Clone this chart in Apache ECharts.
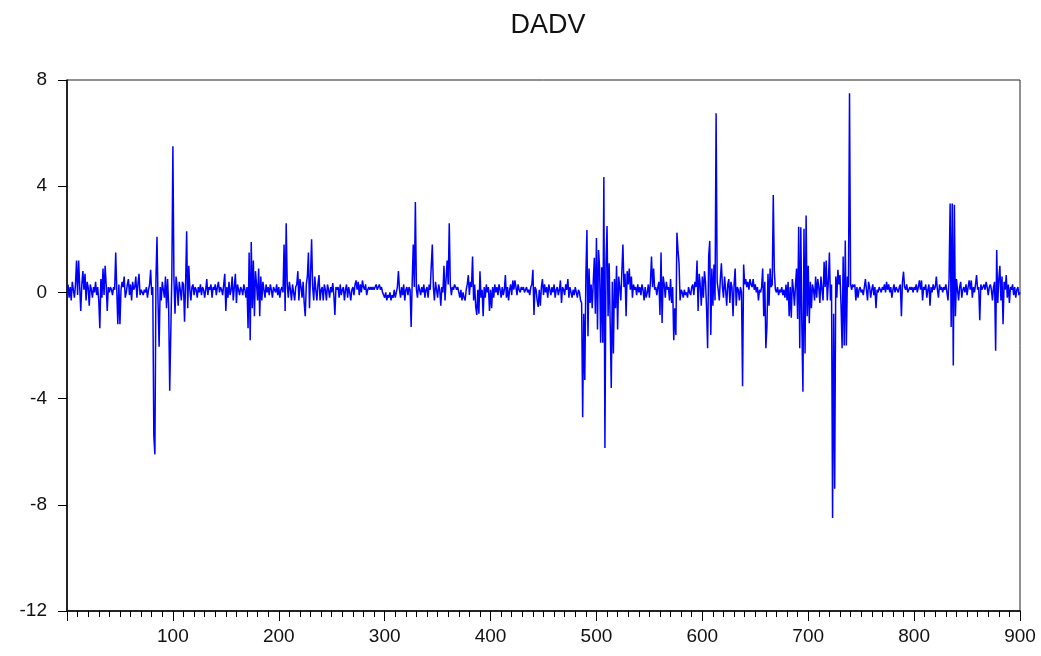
<!DOCTYPE html>
<html>
<head>
<meta charset="utf-8">
<script src="https://cdn.jsdelivr.net/npm/echarts@6/dist/echarts.min.js"></script>
<style>
html,body{margin:0;padding:0;background:#fff;}
#chart{width:1041px;height:656px;}
</style>
</head>
<body>
<div id="chart"></div>
<script>
const titleText = 'DADV';
const xMin = 0, xMax = 900, xStep = 100;
const yMin = -12, yMax = 8, yStep = 4;

// DADV observations 1..900
const dadv = [
 0.3,-0.2,0.2,-0.3,0.4,0.1,-0.2,0.3,1.2,-0.1,
 1.2,0.2,-0.7,0.3,0.8,0.1,0.7,-0.3,0.4,0.2,
 -0.5,0.3,0.1,-0.2,0.2,0.0,0.4,-0.1,0.2,-0.3,
 -1.35,0.5,-0.2,0.9,-0.1,1.0,0.3,-0.7,0.2,0.0,
 0.2,0.1,-0.1,0.2,0.1,1.5,0.1,-1.2,0.3,-1.2,
 0.1,0.4,0.2,0.6,-0.2,0.0,0.3,0.5,-0.1,0.3,
 -0.3,0.4,0.1,0.2,0.6,-0.2,0.3,0.7,-0.1,0.1,
 0.0,-0.1,0.1,0.0,0.2,-0.2,0.1,0.3,0.85,-0.1,
 0.2,-5.4,-6.1,0.5,2.1,-0.4,-2.05,0.2,-0.3,0.4,
 0.1,-0.2,0.6,-0.6,0.5,-0.5,-3.7,-3.7,0.6,5.5,
 0.5,-0.8,0.6,0.2,-0.5,0.4,0.1,-0.3,0.4,0.3,
 -1.1,0.3,2.3,-0.6,1.0,0.1,-0.3,0.2,0.3,-0.1,
 0.2,0.1,-0.2,0.2,0.0,0.3,-0.1,0.2,0.1,-0.2,
 0.1,0.5,-0.1,0.2,0.1,0.3,-0.2,0.2,0.1,0.3,
 -0.1,0.2,0.4,0.0,0.2,0.1,-0.1,0.3,0.7,-0.7,
 0.2,-0.2,0.4,-0.1,0.1,0.6,-0.3,0.2,0.7,-0.4,
 0.3,0.1,-0.1,0.2,0.1,-0.1,0.3,0.1,-0.2,0.2,
 -1.35,1.5,-1.8,1.9,-0.6,1.2,-0.9,0.8,0.3,-0.3,
 0.9,-0.9,0.6,-0.3,0.4,0.1,-0.2,0.3,0.0,0.2,
 -0.1,0.3,0.1,-0.2,0.2,0.1,0.0,0.3,-0.1,0.2,
 -0.2,0.1,0.2,0.0,1.8,-0.7,2.6,0.3,-0.2,0.4,
 0.1,-0.3,0.3,0.0,-0.3,0.2,0.3,0.8,-0.3,0.5,
 0.2,-0.2,0.4,-0.4,-0.9,0.3,0.6,1.5,-0.6,0.7,
 2.0,0.2,-0.3,0.6,0.1,-0.3,0.3,0.65,-0.3,0.1,
 0.2,-0.3,0.3,0.1,-0.3,0.3,0.1,-0.2,0.2,0.0,
 0.35,-0.1,-0.85,0.2,0.1,0.2,-0.2,0.3,-0.1,0.1,
 0.2,-0.3,0.1,0.3,-0.2,0.2,0.0,-0.3,0.1,0.2,
 -0.1,0.3,0.45,0.1,0.4,-0.1,0.3,0.0,0.45,0.2,
 0.1,0.3,-0.1,0.1,0.2,0.1,0.2,0.1,0.2,0.1,
 0.2,0.3,0.1,0.2,0.3,0.1,0.2,0.0,-0.1,-0.2,
 0.0,-0.3,-0.1,-0.2,0.0,-0.3,-0.1,-0.2,0.1,-0.2,
 0.0,0.2,0.8,0.1,-0.2,0.2,-0.1,0.3,-0.3,0.1,
 0.2,-0.1,0.2,0.1,-1.3,0.4,1.8,0.2,3.4,0.1,
 -0.2,0.3,0.1,-0.1,0.2,0.0,0.3,-0.2,0.1,0.2,
 -0.2,0.3,0.1,1.0,1.8,0.2,-0.3,0.4,0.1,-0.2,
 0.3,0.1,-0.5,0.2,0.0,1.0,-0.3,0.5,1.2,0.3,
 2.6,0.3,-0.1,0.2,0.1,0.3,0.2,0.1,0.2,0.0,
 -0.2,0.1,-0.3,0.0,-0.2,-0.3,0.1,0.3,0.65,-0.1,
 0.4,0.2,1.35,-0.3,0.3,-0.55,-0.85,0.1,-0.8,0.8,
 -0.2,0.1,-0.9,0.2,-0.2,0.3,0.0,0.2,-0.7,0.1,
 -0.6,0.2,-0.2,0.3,0.0,0.2,-0.1,0.3,0.1,-0.2,
 0.2,-0.1,0.1,0.65,-0.2,0.2,-0.3,0.1,0.3,-0.1,
 0.45,0.1,0.45,0.2,-0.1,0.3,0.1,0.0,0.2,0.1,
 0.2,0.0,0.1,0.2,0.0,0.1,-0.1,0.2,0.3,0.85,
 -0.85,0.2,0.1,-0.3,-0.55,0.1,-0.5,0.2,0.5,-0.1,
 0.3,0.0,0.2,-0.2,0.3,0.1,-0.1,0.2,0.0,0.3,
 -0.2,0.1,0.2,-0.1,0.1,0.45,-0.4,0.2,0.1,-0.1,
 0.3,0.1,0.5,-0.2,0.2,0.0,-0.2,0.1,-0.1,0.2,
 0.0,-0.2,0.1,0.0,-0.3,-0.4,-4.7,-0.8,-3.3,0.6,
 2.35,-1.65,0.9,-0.4,0.3,-0.6,0.4,1.3,-0.8,2.05,
 -1.4,1.6,0.9,-1.9,0.95,-1.9,4.35,-5.86,1.1,2.5,
 -0.9,1.1,-1.2,-3.6,0.4,-2.3,0.5,-0.6,1.0,-1.4,
 0.6,0.2,-0.3,0.8,1.8,0.2,0.7,-0.9,0.8,0.3,
 0.9,0.1,0.6,-0.2,0.3,0.1,0.2,-0.1,0.3,0.0,
 0.2,-0.1,0.3,0.1,-0.3,0.2,-0.2,0.0,0.3,-0.2,
 0.4,1.35,0.2,0.9,0.1,0.2,-0.1,0.2,0.4,-0.85,
 1.5,-1.15,0.6,0.3,-0.2,0.4,0.1,0.2,-0.3,0.5,
 -0.4,0.2,-1.8,-0.6,-1.6,2.25,1.6,1.1,-0.3,0.1,
 0.0,-0.2,0.1,-0.1,0.0,-0.2,0.2,0.0,-0.1,0.2,
 0.3,-0.1,0.4,0.2,1.2,-0.7,0.7,0.3,-0.5,0.6,
 -0.2,0.8,0.4,-0.6,-2.1,1.37,1.94,-1.6,0.9,-0.5,
 1.05,-0.3,6.75,0.4,0.1,-0.3,0.5,1.1,0.2,-0.2,
 0.6,0.1,-0.5,0.3,0.5,-0.4,0.4,0.2,-0.9,0.3,
 0.9,-0.5,0.2,0.1,-0.3,0.2,0.0,-3.53,1.05,0.3,
 0.5,0.2,0.4,0.1,0.5,0.3,0.2,0.5,0.1,0.3,
 0.0,0.2,-0.3,0.1,0.0,0.2,0.9,-0.9,0.4,-2.1,
 -1.3,0.7,-0.5,0.9,0.2,0.3,3.67,0.8,0.1,0.0,
 0.2,-0.1,0.1,0.0,0.2,-0.1,0.1,-0.2,0.3,-0.3,
 0.4,-0.9,0.2,-0.95,0.5,0.1,-0.5,0.3,0.9,-1.0,
 2.47,-2.1,2.45,-1.3,-3.74,2.4,-2.3,2.9,-0.9,1.0,
 -1.16,0.4,-0.6,0.3,0.1,-0.3,0.6,-0.2,0.5,0.2,
 -0.4,0.6,0.1,-0.3,1.15,0.2,1.2,-0.3,0.4,1.5,
 -0.3,0.3,-8.5,-0.8,-7.4,0.6,-0.2,0.85,0.3,0.65,
 -0.5,-2.1,1.35,-2.0,1.95,-2.0,0.6,0.2,7.5,0.3,
 0.1,0.3,0.2,0.3,-0.3,0.2,-0.2,0.1,0.2,0.0,
 0.1,-0.1,0.2,0.5,0.1,-0.3,0.4,0.2,-0.2,0.1,
 0.3,-0.1,0.2,-0.6,0.1,0.0,0.2,0.1,0.0,0.2,
 0.1,0.3,0.0,0.4,0.1,0.3,0.0,0.2,-0.2,0.1,
 0.3,0.0,0.2,0.1,0.0,0.2,0.3,-0.9,0.4,0.78,
 0.2,0.1,0.3,0.0,0.1,0.2,0.1,0.2,0.0,0.2,
 0.1,0.3,0.0,0.2,0.45,0.1,0.45,-0.3,0.2,0.1,
 0.3,-0.2,0.1,0.3,-0.5,0.2,0.0,0.3,0.1,0.2,
 0.6,0.1,-0.2,0.3,0.1,0.2,0.0,0.2,0.1,0.3,
 0.0,-0.3,0.5,3.35,-1.3,3.35,-2.75,3.3,-0.9,0.5,
 0.1,-0.3,0.2,0.4,-0.2,0.1,0.2,0.0,0.3,-0.1,
 0.2,0.45,0.1,0.45,-0.2,0.2,0.0,0.3,0.65,0.1,
 0.2,-1.05,0.3,0.1,0.2,0.3,0.1,0.4,0.2,-0.1,
 0.2,0.3,0.1,-0.3,0.2,0.4,-2.2,1.6,-0.4,0.5,
 1.0,-0.3,0.6,-1.2,0.4,0.1,0.65,-0.2,0.3,-0.4,
 0.2,0.1,0.3,-0.1,0.2,-0.2,0.1,0.2,-0.1,0.0
];

const points = dadv.map((v, i) => [i + 1, v]);

const chart = echarts.init(document.getElementById('chart'), null, {renderer: 'canvas'});
const font = 'Arial, "Liberation Sans", sans-serif';
chart.setOption({
  animation: false,
  backgroundColor: '#ffffff',
  title: {
    text: titleText,
    left: 543,
    top: 7,
    textAlign: 'center',
    textStyle: {fontFamily: font, fontSize: 27, fontWeight: 'normal', color: '#111'}
  },
  grid: {
    left: 67, right: 21, top: 80, bottom: 45,
    show: true, borderColor: '#222', borderWidth: 1, backgroundColor: '#fff'
  },
  xAxis: {
    type: 'value', min: xMin, max: xMax, interval: xStep,
    axisLine: {show: true, onZero: false, lineStyle: {color: '#000', width: 1.5}},
    axisTick: {show: true, inside: false, length: 10, lineStyle: {color: '#000', width: 1}},
    minorTick: {show: true, splitNumber: 10, length: 6, lineStyle: {color: '#000', width: 1}},
    splitLine: {show: false},
    minorSplitLine: {show: false},
    axisLabel: {
      margin: 16, color: '#111', fontFamily: font, fontSize: 19,
      formatter: v => (v === 0 ? '' : String(v))
    }
  },
  yAxis: {
    type: 'value', min: yMin, max: yMax, interval: yStep,
    axisLine: {show: true, onZero: false, lineStyle: {color: '#000', width: 1.5}},
    axisTick: {show: true, inside: false, length: 9, lineStyle: {color: '#000', width: 1}},
    splitLine: {show: false},
    axisLabel: {margin: 20, color: '#111', fontFamily: font, fontSize: 19}
  },
  series: [{
    type: 'line',
    data: points,
    showSymbol: false,
    symbol: 'none',
    lineStyle: {color: '#0000ff', width: 1.5},
    itemStyle: {color: '#0000ff'}
  }]
});
</script>
</body>
</html>
